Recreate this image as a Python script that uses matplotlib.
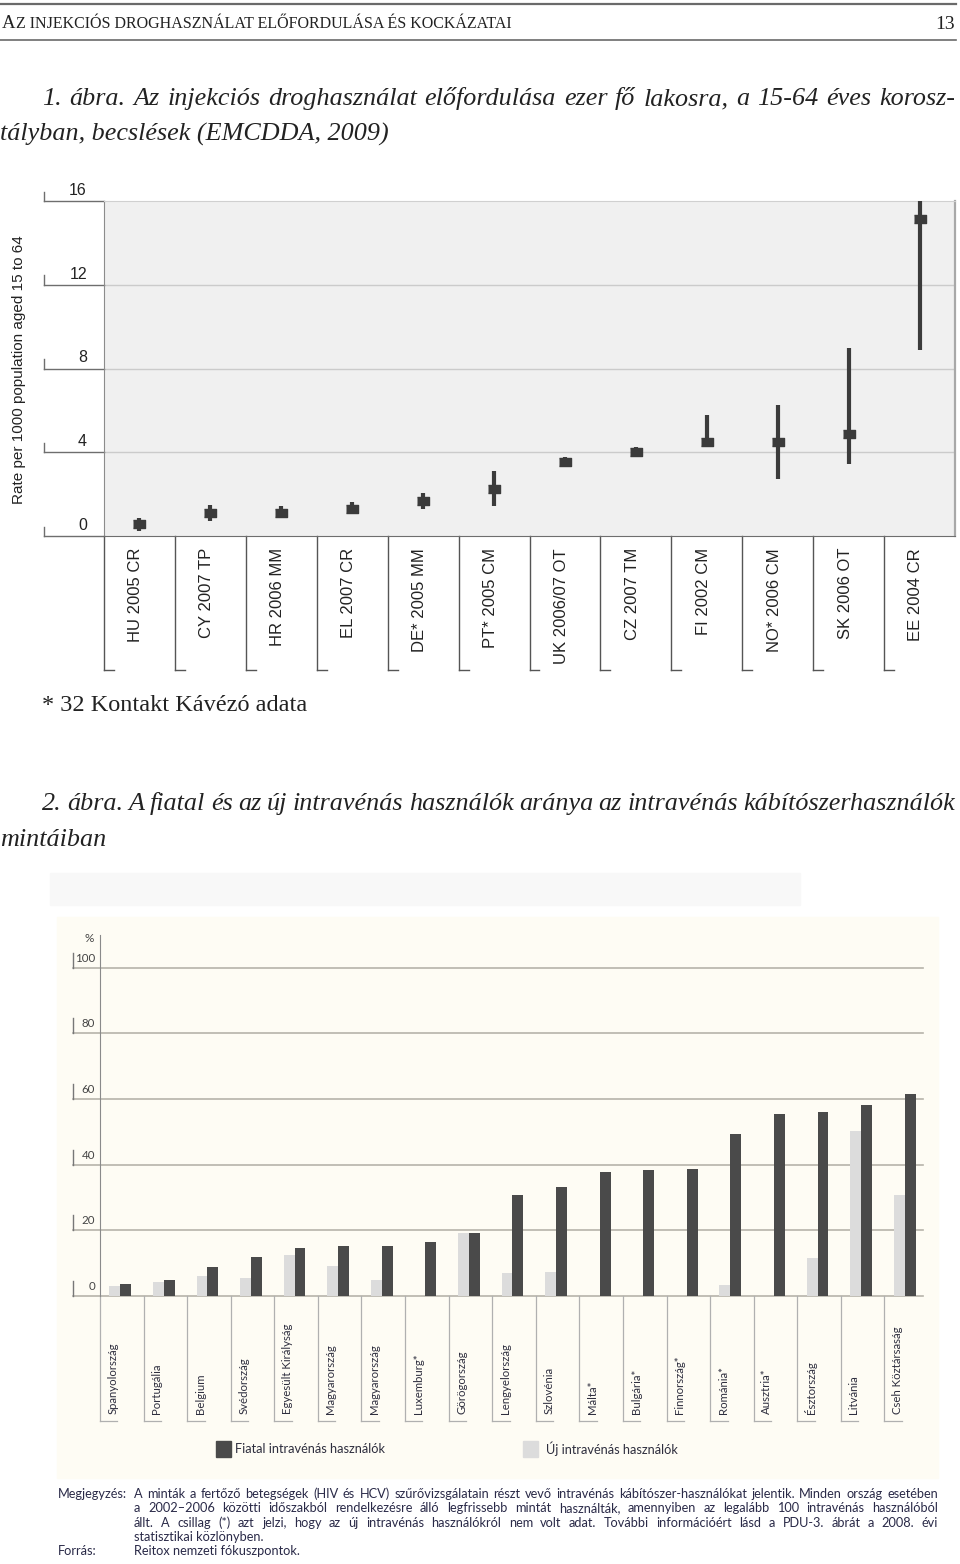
import numpy as np
import matplotlib
matplotlib.use('Agg')
import matplotlib.pyplot as plt
import matplotlib.transforms as mtransforms
from matplotlib.patches import Rectangle
from matplotlib.lines import Line2D

# ---- data: figure 1 (rate per 1000, estimate + range) ----
studies = ["HU 2005 CR", "CY 2007 TP", "HR 2006 MM", "EL 2007 CR", "DE* 2005 MM",
           "PT* 2005 CM", "UK 2006/07 OT", "CZ 2007 TM", "FI 2002 CM", "NO* 2006 CM",
           "SK 2006 OT", "EE 2004 CR"]
rate = np.array([0.55, 1.1, 1.12, 1.3, 1.67, 2.23, 3.54, 4.03, 4.5, 4.5, 4.88, 15.12])
rate_low = np.array([0.25, 0.73, 0.86, 1.1, 1.29, 1.44, 3.35, 3.8, 4.27, 2.74, 3.43, 8.88])
rate_high = np.array([0.86, 1.48, 1.44, 1.64, 2.07, 3.11, 3.75, 4.26, 5.79, 6.27, 8.96, 17.0])
ticks1 = [0, 4, 8, 12, 16]

# ---- data: figure 2 (% young / new injectors) ----
countries = ["Spanyolország", "Portugália", "Belgium", "Svédország", "Egyesült Királyság",
             "Magyarország", "Magyarország", "Luxemburg*", "Görögország", "Lengyelország",
             "Szlovénia", "Málta*", "Bulgária*", "Finnország*", "Románia*", "Ausztria*",
             "Észtország", "Litvánia", "Cseh Köztársaság"]
young = np.array([3.7, 4.8, 8.8, 11.8, 14.7, 15.1, 15.3, 16.4, 19.1, 30.8, 33.3,
                  37.7, 38.4, 38.7, 49.3, 55.4, 56.0, 58.2, 61.5])
new = np.array([3.0, 4.4, 6.2, 5.5, 12.4, 9.1, 5.0, np.nan, 19.3, 7.1, 7.4,
                np.nan, np.nan, np.nan, 3.4, np.nan, 11.6, 50.4, 30.8])
ticks2 = [0, 20, 40, 60, 80, 100]

SERIF = ['Liberation Serif', 'DejaVu Serif']
NARROW = ['Liberation Sans Narrow', 'Liberation Sans', 'DejaVu Sans']
SANS2 = ['Lato', 'DejaVu Sans']

W, H = 960, 1564


def fx(x):
    return x / W


def fy(y):
    return 1 - y / H


fig = plt.figure(figsize=(W / 100, H / 100), dpi=100, facecolor='white')
renderer = fig.canvas.get_renderer()


def justify(line, x0, x1, y, **kw):
    # spread the words of one line over x0..x1 (pixels)
    words = line.split(' ')
    arts = [fig.text(0, fy(y), w, ha='left', va='baseline', **kw) for w in words]
    widths = [a.get_window_extent(renderer).width for a in arts]
    gap = (x1 - x0 - sum(widths)) / max(len(words) - 1, 1)
    x = x0
    for a, w in zip(arts, widths):
        a.set_x(fx(x))
        x += w + gap


# ---- page header ----
fig.add_artist(Line2D([0, fx(956)], [fy(4), fy(4)], color='#6a6a6a', lw=1.6))
fig.add_artist(Line2D([0, fx(956)], [fy(40), fy(40)], color='#6a6a6a', lw=1.2))
a = fig.text(fx(2), fy(28), "A", fontsize=13.5, family=SERIF, va='baseline', color='#222')
aw = a.get_window_extent(renderer).width
fig.text(fx(2 + aw), fy(28), "Z INJEKCIÓS DROGHASZNÁLAT ELŐFORDULÁSA ÉS KOCKÁZATAI",
         fontsize=11.5, family=SERIF, va='baseline', color='#222')
fig.text(fx(955), fy(29), "13", fontsize=14, family=SERIF, ha='right', va='baseline', color='#222')

# ---- figure 1 caption ----
cap_kw = dict(fontsize=18.8, family=SERIF, style='italic', color='#222')
justify("1. ábra. Az injekciós droghasználat előfordulása ezer fő lakosra, a 15-64 éves korosz-",
        42, 955, 105, **cap_kw)
fig.text(0, fy(141), "tályban, becslések (EMCDDA, 2009)", va='baseline', **cap_kw)

# ---- figure 1 chart ----
ax1 = fig.add_axes([fx(104), fy(536), fx(955) - fx(104), (536 - 201) / H])
ax1.set_facecolor('#f0f0f0')
ax1.set_xlim(-0.5, len(studies) - 0.5)
ax1.set_ylim(0, 16)
ax1.set_xticks([])
ax1.set_yticks([])
for v in ticks1[1:-1]:
    ax1.axhline(v, color='#cbcbcb', lw=1, zorder=1)
ax1.spines['top'].set_color('#d0d0d0')
ax1.spines['right'].set_color('#a8a8a8')
ax1.spines['right'].set_linewidth(1.6)
ax1.spines['left'].set_color('#8c8c8c')
ax1.spines['bottom'].set_color('#6e6e6e')

xs1 = np.arange(len(studies))
ax1.errorbar(xs1, rate, yerr=[rate - rate_low, rate_high - rate], fmt='none',
             ecolor='#3b3b3b', elinewidth=3, capsize=0, zorder=3)
box = [(-1.5, -1), (1.5, -1), (1.5, 1), (-1.5, 1)]
ax1.plot(xs1, rate, ls='none', marker=box, ms=9, color='#3b3b3b', zorder=4)

fig_y1 = mtransforms.blended_transform_factory(fig.transFigure, ax1.transData)
dat_x1 = mtransforms.blended_transform_factory(ax1.transData, fig.transFigure)
for v in ticks1:
    ax1.plot([fx(44), fx(104)], [v, v], transform=fig_y1, color='#6e6e6e', lw=1, clip_on=False)
    ax1.plot([fx(44), fx(44)], [v, v + 0.45], transform=fig_y1, color='#6e6e6e', lw=1, clip_on=False)
    ax1.annotate(str(v), xy=(fx(87), v), xycoords=fig_y1, xytext=(0, 3),
                 textcoords='offset pixels', ha='right', va='bottom',
                 fontsize=11.5, family=NARROW, color='#222')
fig.text(fx(19), fy(370), "Rate per 1000 population aged 15 to 64", rotation=90,
         ha='center', va='center', fontsize=11, family=NARROW, color='#222')

for i, lab in enumerate(studies):
    ax1.plot([i - 0.5, i - 0.5], [fy(536), fy(670)], transform=dat_x1,
             color='#555', lw=1, clip_on=False)
    ax1.plot([i - 0.5, i - 0.36], [fy(670), fy(670)], transform=dat_x1,
             color='#555', lw=1, clip_on=False)
    ax1.text(i - 0.05, fy(548), lab, transform=dat_x1, rotation=90, ha='center',
             va='top', fontsize=12, family=NARROW, color='#222')

fig.text(fx(42), fy(711), "* 32 Kontakt Kávézó adata", fontsize=17.5, family=SERIF,
         va='baseline', color='#222')

# ---- figure 2 caption ----
justify("2. ábra. A fiatal és az új intravénás használók aránya az intravénás kábítószerhasználók",
        42, 955, 810, **cap_kw)
fig.text(0, fy(846), "mintáiban", va='baseline', **cap_kw)

# ---- figure 2 background ----
fig.patches.append(Rectangle((fx(50), fy(905)), fx(800) - fx(50), (905 - 873) / H,
                             transform=fig.transFigure, color='#f8f8f8', zorder=-2))
fig.patches.append(Rectangle((fx(57), fy(1478)), fx(938) - fx(57), (1478 - 917) / H,
                             transform=fig.transFigure, color='#fefcf4', zorder=-2))

# ---- figure 2 chart ----
ax2 = fig.add_axes([fx(100), fy(1296), fx(928) - fx(100), (1296 - 935) / H])
ax2.patch.set_alpha(0)
ax2.set_xlim(-0.5, len(countries) - 0.5)
ax2.set_ylim(0, 110)
ax2.set_xticks([])
ax2.set_yticks([])
for s in ['top', 'right', 'bottom']:
    ax2.spines[s].set_visible(False)
ax2.spines['left'].set_color('#8a8a8a')

fig_y2 = mtransforms.blended_transform_factory(fig.transFigure, ax2.transData)
dat_x2 = mtransforms.blended_transform_factory(ax2.transData, fig.transFigure)
for v in ticks2:
    ax2.plot([fx(73), fx(923)], [v, v], transform=fig_y2, color='#b6b3aa', lw=1.2,
             clip_on=False, zorder=1)
    ax2.plot([fx(73), fx(73)], [v, v + 4.6], transform=fig_y2, color='#777', lw=1,
             clip_on=False)
    ax2.annotate(str(v), xy=(fx(95), v), xycoords=fig_y2, xytext=(0, 4),
                 textcoords='offset pixels', ha='right', va='bottom',
                 fontsize=8.3, family=SANS2, color='#444')
fig.text(fx(94), fy(939), "%", ha='right', va='center', fontsize=8.5, family=SANS2, color='#444')

xs2 = np.arange(len(countries))
ax2.bar(xs2 - 0.16, new, width=0.25, color='#dcdcdc', zorder=2)
ax2.bar(xs2 + 0.09, young, width=0.25, color='#4a4a4a', zorder=3)

for i, lab in enumerate(countries):
    ax2.plot([i - 0.5, i - 0.5], [fy(1296), fy(1421)], transform=dat_x2,
             color='#b0b0b0', lw=0.9, clip_on=False)
    ax2.plot([i - 0.5, i - 0.1], [fy(1421), fy(1421)], transform=dat_x2,
             color='#b0b0b0', lw=0.9, clip_on=False)
    ax2.text(i - 0.2, fy(1414), lab, transform=dat_x2, rotation=90, ha='center',
             va='bottom', fontsize=8.2, family=SANS2, color='#2e2e3e')

# legend
fig.patches.append(Rectangle((fx(216), fy(1457)), 15 / W, 16 / H, transform=fig.transFigure,
                             color='#4a4a4a', zorder=2))
fig.text(fx(235), fy(1449), "Fiatal intravénás használók", va='center', fontsize=9.2,
         family=SANS2, color='#2e2e3e')
fig.patches.append(Rectangle((fx(523), fy(1457)), 15 / W, 16 / H, transform=fig.transFigure,
                             color='#dcdcdc', zorder=2))
fig.text(fx(546), fy(1449), "Új intravénás használók", va='center', fontsize=9.2,
         family=SANS2, color='#2e2e3e')

# notes
note_kw = dict(fontsize=9.2, family=SANS2, color='#2a2a48')
fig.text(fx(58), fy(1498), "Megjegyzés:", va='baseline', **note_kw)
justify("A minták a fertőző betegségek (HIV és HCV) szűrővizsgálatain részt vevő intravénás "
        "kábítószer-használókat jelentik. Minden ország esetében", 134, 938, 1498, **note_kw)
justify("a 2002–2006 közötti időszakból rendelkezésre álló legfrissebb mintát használták, "
        "amennyiben az legalább 100 intravénás használóból", 134, 938, 1512, **note_kw)
justify("állt. A csillag (*) azt jelzi, hogy az új intravénás használókról nem volt adat. "
        "További információért lásd a PDU-3. ábrát a 2008. évi", 134, 938, 1527, **note_kw)
fig.text(fx(134), fy(1541), "statisztikai közlönyben.", va='baseline', **note_kw)
fig.text(fx(58), fy(1555), "Forrás:", va='baseline', **note_kw)
fig.text(fx(134), fy(1555), "Reitox nemzeti fókuszpontok.", va='baseline', **note_kw)

fig.savefig('out.png', dpi=100, facecolor='white')
